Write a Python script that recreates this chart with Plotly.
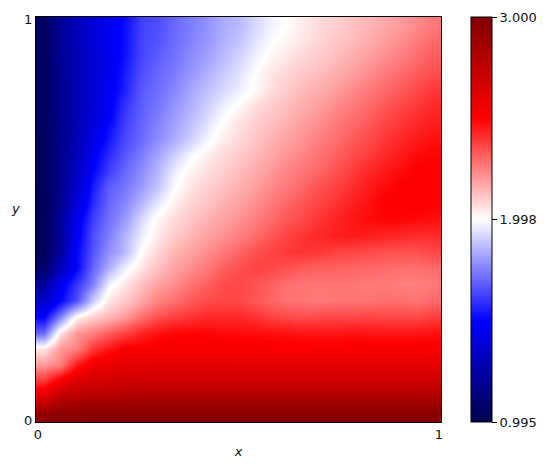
import plotly.graph_objects as go

# Values, on a coarse grid, top row first.
r01 = [1.05,1.20,1.30,1.38,1.45,1.52,1.62,1.65,1.70,1.74,1.78,1.83,1.86,1.92,1.97,2.00,2.04,2.07,2.09,2.12,2.14,2.17,2.19,2.23,2.26]
r02 = [1.05,1.20,1.30,1.38,1.45,1.52,1.63,1.66,1.71,1.75,1.79,1.84,1.88,1.94,1.99,2.02,2.05,2.08,2.11,2.13,2.16,2.19,2.22,2.26,2.29]
r03 = [1.05,1.19,1.29,1.37,1.45,1.53,1.63,1.68,1.72,1.77,1.81,1.86,1.91,1.97,2.02,2.05,2.08,2.10,2.13,2.16,2.19,2.22,2.25,2.29,2.32]
r04 = [1.05,1.18,1.29,1.37,1.45,1.55,1.65,1.70,1.74,1.79,1.84,1.89,1.94,2.00,2.05,2.08,2.11,2.13,2.16,2.19,2.22,2.26,2.29,2.32,2.35]
r05 = [1.05,1.18,1.28,1.37,1.46,1.56,1.67,1.71,1.76,1.82,1.87,1.92,1.96,2.01,2.06,2.10,2.14,2.16,2.19,2.23,2.26,2.29,2.32,2.36,2.39]
r06 = [1.05,1.18,1.28,1.38,1.47,1.60,1.68,1.73,1.79,1.84,1.90,1.96,2.01,2.06,2.10,2.13,2.16,2.19,2.23,2.26,2.29,2.33,2.36,2.39,2.42]
r07 = [1.05,1.17,1.28,1.40,1.50,1.62,1.69,1.75,1.81,1.87,1.93,2.00,2.05,2.09,2.12,2.15,2.19,2.22,2.26,2.29,2.32,2.36,2.39,2.42,2.44]
r08 = [1.04,1.17,1.29,1.42,1.54,1.64,1.70,1.77,1.83,1.90,1.97,2.03,2.07,2.11,2.15,2.18,2.21,2.25,2.28,2.32,2.35,2.39,2.42,2.45,2.47]
r09 = [1.04,1.17,1.30,1.47,1.58,1.67,1.74,1.82,1.90,1.98,2.03,2.07,2.10,2.14,2.17,2.21,2.24,2.28,2.31,2.35,2.38,2.42,2.45,2.48,2.49]
r10 = [1.04,1.17,1.32,1.50,1.62,1.70,1.77,1.85,1.96,2.02,2.06,2.09,2.13,2.16,2.20,2.24,2.27,2.30,2.34,2.38,2.42,2.45,2.48,2.50,2.50]
r11 = [1.04,1.17,1.35,1.55,1.68,1.73,1.80,1.88,1.99,2.05,2.09,2.12,2.15,2.19,2.23,2.26,2.30,2.34,2.37,2.41,2.45,2.48,2.50,2.50,2.50]
r12 = [1.03,1.17,1.38,1.58,1.70,1.76,1.85,1.95,2.03,2.08,2.11,2.15,2.18,2.22,2.26,2.30,2.33,2.37,2.40,2.44,2.47,2.50,2.50,2.51,2.50]
r13 = [1.03,1.20,1.45,1.62,1.72,1.80,1.92,2.02,2.07,2.11,2.15,2.18,2.21,2.25,2.29,2.33,2.36,2.40,2.43,2.46,2.48,2.49,2.49,2.48,2.47]
r14 = [1.03,1.20,1.47,1.65,1.75,1.85,1.96,2.04,2.10,2.14,2.18,2.21,2.25,2.29,2.33,2.37,2.40,2.42,2.44,2.45,2.44,2.43,2.42,2.41,2.41]
r15 = [1.03,1.22,1.50,1.66,1.78,1.86,2.00,2.08,2.14,2.18,2.22,2.26,2.30,2.34,2.37,2.39,2.40,2.39,2.37,2.36,2.35,2.34,2.34,2.34,2.36]
r16 = [1.08,1.30,1.50,1.70,1.84,1.97,2.05,2.12,2.18,2.22,2.26,2.31,2.34,2.37,2.36,2.34,2.32,2.31,2.31,2.30,2.30,2.29,2.28,2.28,2.29]
r17 = [1.20,1.45,1.60,1.75,1.97,2.05,2.12,2.18,2.22,2.27,2.31,2.35,2.36,2.34,2.31,2.28,2.27,2.27,2.27,2.27,2.26,2.26,2.25,2.25,2.26]
r18 = [1.35,1.50,1.65,1.90,2.05,2.10,2.17,2.24,2.28,2.32,2.35,2.36,2.36,2.33,2.30,2.27,2.27,2.26,2.27,2.27,2.27,2.28,2.28,2.27,2.29]
r19 = [1.50,1.75,2.02,2.10,2.14,2.20,2.28,2.34,2.38,2.40,2.42,2.42,2.42,2.40,2.37,2.36,2.35,2.36,2.36,2.36,2.37,2.36,2.36,2.36,2.38]
r20 = [1.70,2.05,2.20,2.25,2.32,2.37,2.43,2.47,2.49,2.49,2.49,2.48,2.48,2.48,2.47,2.47,2.46,2.46,2.46,2.47,2.46,2.46,2.46,2.46,2.47]
r21 = [2.05,2.20,2.25,2.40,2.46,2.52,2.52,2.53,2.53,2.53,2.53,2.53,2.52,2.52,2.52,2.51,2.52,2.51,2.51,2.52,2.52,2.52,2.52,2.52,2.52]
r22 = [2.20,2.25,2.45,2.56,2.58,2.60,2.60,2.60,2.60,2.60,2.60,2.60,2.60,2.60,2.60,2.60,2.60,2.60,2.60,2.60,2.60,2.60,2.60,2.60,2.60]
r23 = [2.40,2.55,2.65,2.67,2.68,2.69,2.70,2.70,2.70,2.70,2.70,2.70,2.70,2.70,2.70,2.70,2.70,2.70,2.70,2.70,2.70,2.70,2.70,2.70,2.70]
r24 = [2.65,2.78,2.80,2.82,2.82,2.83,2.83,2.83,2.83,2.83,2.83,2.83,2.83,2.83,2.83,2.83,2.83,2.83,2.83,2.83,2.83,2.83,2.83,2.83,2.83]
r25 = [2.93,2.95,2.95,2.96,2.96,2.96,2.96,2.96,2.96,2.96,2.96,2.96,2.96,2.96,2.96,2.96,2.96,2.96,2.96,2.96,2.96,2.96,2.96,2.96,2.96]

rows_top_down = [r01,r02,r03,r04,r05,r06,r07,r08,r09,r10,r11,r12,r13,r14,r15,r16,r17,r18,r19,r20,r21,r22,r23,r24,r25]
z_min, z_mid, z_max = 0.995, 1.998, 3.000
bar_ticks = [z_min, z_mid, z_max]
bar_labels = ["0.995", "1.998", "3.000"]
axis_ticks = [0, 1]
axis_labels = ["0", "1"]

seismic = [[0, "rgb(0,0,77)"], [0.25, "rgb(0,0,255)"], [0.5, "rgb(255,255,255)"],
           [0.75, "rgb(255,0,0)"], [1, "rgb(128,0,0)"]]
FONT = dict(family="DejaVu Sans", size=13, color="#111")

fig = go.Figure(go.Heatmap(
    z=rows_top_down[::-1], x0=0.0152, dx=0.0404, y0=0.0152, dy=0.0404,
    zmin=z_min, zmax=z_max, colorscale=seismic, zsmooth="best",
    colorbar=dict(thicknessmode="pixels", thickness=21, lenmode="fraction", len=1,
                  x=1.074, xanchor="left", y=0, yanchor="bottom", xpad=0, ypad=0,
                  outlinewidth=1, outlinecolor="black", ticks="outside", ticklen=5,
                  tickwidth=1, tickcolor="black", tickvals=bar_ticks, ticktext=bar_labels,
                  tickfont=FONT),
))
axis = dict(range=[-0.005, 1.005], tickvals=axis_ticks, ticktext=axis_labels, ticks="",
            showgrid=False, zeroline=False, showline=True, mirror=True,
            linecolor="black", linewidth=1, tickfont=FONT)
fig.update_layout(
    width=551, height=470, autosize=False, paper_bgcolor="white", plot_bgcolor="white",
    margin=dict(l=35.7, r=109.7, t=15.3, b=47.7, pad=0),
    xaxis=dict(axis, title=dict(text="<i>x</i>", font=FONT, standoff=6)),
    yaxis=axis,
    annotations=[dict(text="<i>y</i>", xref="paper", yref="paper", x=-0.051, y=0.528,
                      xanchor="center", yanchor="middle", showarrow=False, font=FONT)],
)
fig.write_html("out.html", config={"displayModeBar": False},
               post_script="document.body.style.margin='0';")
